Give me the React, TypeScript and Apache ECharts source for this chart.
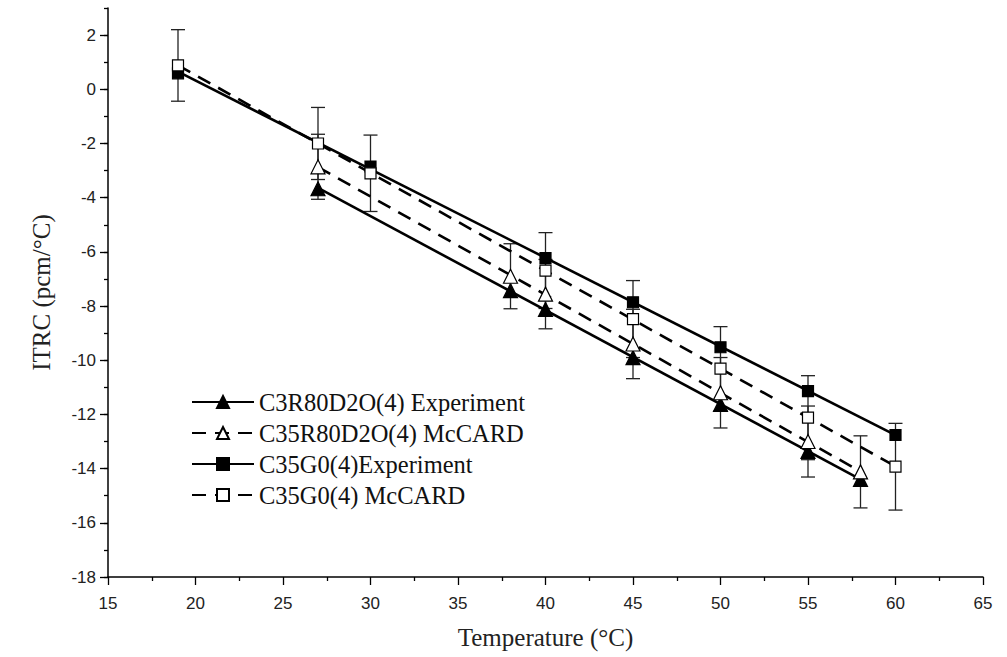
import React, { useEffect, useRef } from "react";
import * as echarts from "echarts";

// Legend names
const seriesNames = [
  "C3R80D2O(4) Experiment",
  "C35R80D2O(4) McCARD",
  "C35G0(4)Experiment",
  "C35G0(4) McCARD",
];

// C3R80D2O(4) Experiment (filled triangles)
const expTriT = [27, 38, 40, 45, 50, 55, 58];
const expTriV = [-3.67, -7.43, -8.12, -9.9, -11.63, -13.36, -14.4];

// C35R80D2O(4) McCARD (open triangles)
const mcTriT = [27, 38, 40, 45, 50, 55, 58];
const mcTriV = [-2.86, -6.9, -7.56, -9.4, -11.2, -13.0, -14.12];
const mcTriErr = [1.2, 1.2, 1.28, 1.28, 1.3, 1.31, 1.33];

// C35G0(4)Experiment (filled squares)
const expSqT = [19, 30, 40, 45, 50, 55, 60];
const expSqV = [0.59, -2.85, -6.23, -7.86, -9.52, -11.14, -12.76];

// C35G0(4) McCARD (open squares)
const mcSqT = [19, 27, 30, 40, 45, 50, 55, 60];
const mcSqV = [0.88, -2.0, -3.1, -6.69, -8.48, -10.31, -12.12, -13.93];
const mcSqErr = [1.32, 1.33, 1.41, 1.4, 1.42, 1.55, 1.55, 1.6];

// Axis ticks
const yMajorTicks = [-18, -16, -14, -12, -10, -8, -6, -4, -2, 0, 2];

function linearFit(xs: number[], ys: number[]): number[][] {
  const n = xs.length;
  let sx = 0, sy = 0, sxx = 0, sxy = 0;
  for (let i = 0; i < n; i++) {
    sx += xs[i]; sy += ys[i]; sxx += xs[i] * xs[i]; sxy += xs[i] * ys[i];
  }
  const b = (n * sxy - sx * sy) / (n * sxx - sx * sx);
  const a = (sy - b * sx) / n;
  const x0 = Math.min(...xs), x1 = Math.max(...xs);
  return [[x0, a + b * x0], [x1, a + b * x1]];
}

const zip = (xs: number[], ys: number[]) => xs.map((x, i) => [x, ys[i]]);
const zip3 = (xs: number[], ys: number[], es: number[]) => xs.map((x, i) => [x, ys[i], es[i]]);

const DASH = [14, 9];

export default function App() {
  const ref = useRef<HTMLDivElement>(null);
  useEffect(() => {
    if (!ref.current) return;
    const chart = echarts.init(ref.current, undefined, { renderer: "svg" });

    const groups = [
      { name: seriesNames[0], t: expTriT, v: expTriV, err: null as number[] | null, symbol: "triangle", size: 14, fill: "#000", dash: false },
      { name: seriesNames[1], t: mcTriT, v: mcTriV, err: mcTriErr, symbol: "triangle", size: 14, fill: "#fff", dash: true },
      { name: seriesNames[2], t: expSqT, v: expSqV, err: null as number[] | null, symbol: "rect", size: 11, fill: "#000", dash: false },
      { name: seriesNames[3], t: mcSqT, v: mcSqV, err: mcSqErr, symbol: "rect", size: 11, fill: "#fff", dash: true },
    ];

    const series: any[] = [];
    groups.forEach((g, gi) => {
      if (g.err) {
        series.push({
          type: "custom",
          name: g.name + " error",
          silent: true,
          z: 2,
          encode: { x: 0, y: 1 },
          data: zip3(g.t, g.v, g.err),
          renderItem: (params: any, api: any) => {
            const x = api.value(0), y = api.value(1), e = api.value(2);
            const top = api.coord([x, y + e]);
            const bot = api.coord([x, y - e]);
            const hw = 7;
            const st = { stroke: "#222", lineWidth: 1.3 };
            return {
              type: "group",
              children: [
                { type: "line", shape: { x1: top[0], y1: top[1], x2: bot[0], y2: bot[1] }, style: st },
                { type: "line", shape: { x1: top[0] - hw, y1: top[1], x2: top[0] + hw, y2: top[1] }, style: st },
                { type: "line", shape: { x1: bot[0] - hw, y1: bot[1], x2: bot[0] + hw, y2: bot[1] }, style: st },
              ],
            };
          },
        });
      }
      series.push({
        type: "line",
        name: g.name,
        data: linearFit(g.t, g.v),
        symbol: g.symbol,
        symbolSize: g.size,
        showSymbol: false,
        silent: true,
        z: 3,
        lineStyle: { color: "#000", width: 2.6, type: g.dash ? DASH : "solid" },
        itemStyle: { color: g.fill, borderColor: "#000", borderWidth: 1.2 },
      });
      series.push({
        type: "scatter",
        name: g.name + " points",
        data: zip(g.t, g.v),
        symbol: g.symbol,
        symbolSize: g.size,
        silent: true,
        z: 4 + gi,
        itemStyle: { color: g.fill, borderColor: "#000", borderWidth: 1.2, opacity: 1 },
      });
    });

    chart.setOption({
      animation: false,
      backgroundColor: "#fff",
      grid: { left: 108, right: 24, top: 8, bottom: 80, containLabel: false },
      legend: {
        data: seriesNames,
        orient: "vertical",
        left: 186,
        top: 384,
        itemWidth: 62,
        itemHeight: 15,
        itemGap: 5,
        selectedMode: false,
        textStyle: { fontFamily: "Liberation Serif", fontSize: 24.5, color: "#111", lineHeight: 26 },
      },
      xAxis: {
        type: "value",
        min: 15,
        max: 65,
        interval: 5,
        name: "Temperature (°C)",
        nameLocation: "middle",
        nameGap: 48,
        nameTextStyle: { fontFamily: "Liberation Serif", fontSize: 25, color: "#222" },
        axisLine: { show: true, onZero: false, lineStyle: { color: "#000", width: 1.5 } },
        axisTick: { show: true, inside: false, length: 8, lineStyle: { color: "#000", width: 1.3 } },
        minorTick: { show: true, splitNumber: 2, length: 4, lineStyle: { color: "#000", width: 1.3 } },
        axisLabel: { fontFamily: "Liberation Sans", fontSize: 17, color: "#222", margin: 18 },
        splitLine: { show: false },
        minorSplitLine: { show: false },
      },
      yAxis: [
        {
          type: "value",
          min: -18,
          max: 3,
          interval: 1,
          name: "ITRC (pcm/°C)",
          nameLocation: "middle",
          nameGap: 54,
          nameTextStyle: { fontFamily: "Liberation Serif", fontSize: 25, color: "#222" },
          axisLine: { show: true, onZero: false, lineStyle: { color: "#000", width: 1.5 } },
          axisTick: { show: true, inside: false, length: 4, lineStyle: { color: "#000", width: 1.3 } },
          axisLabel: {
            fontFamily: "Liberation Sans",
            fontSize: 17,
            color: "#222",
            margin: 12,
            customValues: yMajorTicks,
            formatter: (v: number) => (yMajorTicks.indexOf(v) >= 0 ? String(v) : ""),
          },
          splitLine: { show: false },
        },
        {
          type: "value",
          min: -18,
          max: 3,
          interval: 1,
          position: "left",
          axisLine: { show: false },
          axisTick: { show: true, inside: false, length: 8, customValues: yMajorTicks, lineStyle: { color: "#000", width: 1.3 } },
          axisLabel: { show: false },
          splitLine: { show: false },
        },
      ],
      series,
    });

    return () => chart.dispose();
  }, []);

  return (
    <div
      ref={ref}
      style={{ position: "fixed", left: 0, top: 0, width: 1007, height: 657, background: "#fff" }}
    />
  );
}
